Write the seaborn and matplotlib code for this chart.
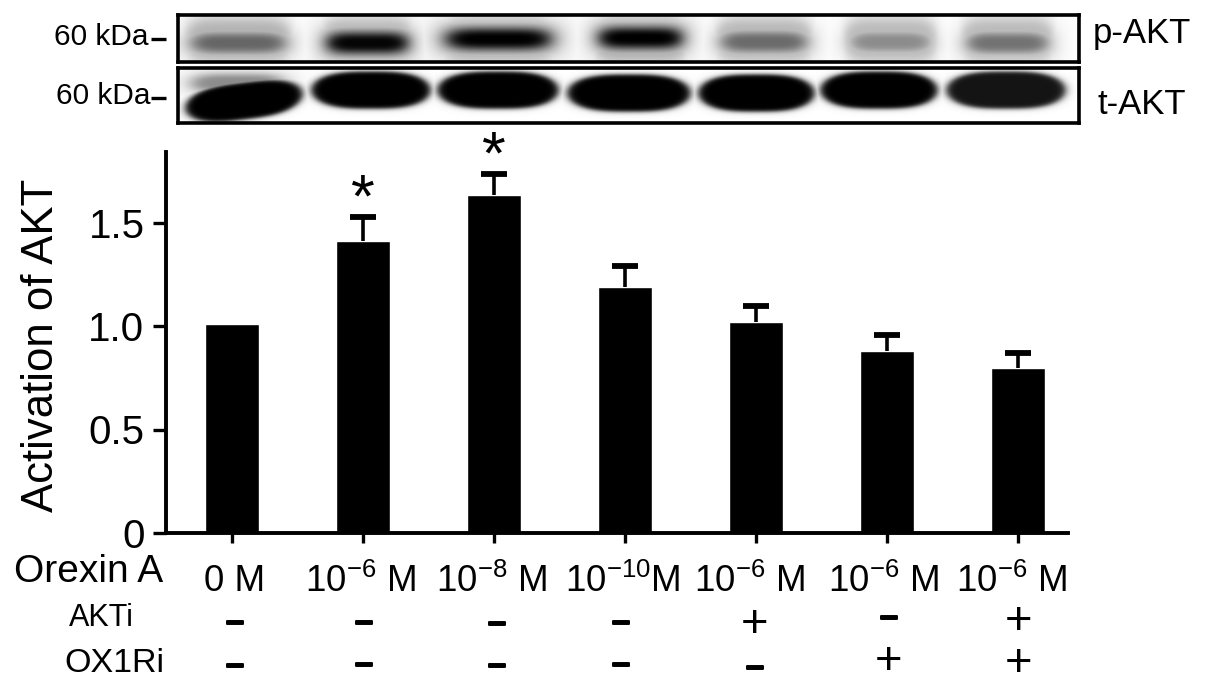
import numpy as np
import pandas as pd
import matplotlib
matplotlib.use("Agg")
import matplotlib.pyplot as plt
import matplotlib.patheffects as pe
from matplotlib.transforms import ScaledTranslation
import seaborn as sns

# ---- chart data ----
doses = ["0 M", r"10$^{-6}$ M", r"10$^{-8}$ M", r"10$^{-10}$M", r"10$^{-6}$ M", r"10$^{-6}$ M", r"10$^{-6}$ M"]
akti = ["-", "-", "-", "-", "+", "-", "+"]
ox1ri = ["-", "-", "-", "-", "-", "+", "+"]
activation = [1.01, 1.41, 1.635, 1.19, 1.02, 0.88, 0.795]
sem = [0.0, 0.115, 0.10, 0.10, 0.075, 0.075, 0.075]
significant = [False, True, True, False, False, False, False]
y_ticks = [0, 0.5, 1.0, 1.5]
y_tick_labels = ["0", "0.5", "1.0", "1.5"]

# ---- blot band densities (0 = white, 1 = black) ----
p_halo = [0.30, 0.28, 0.30, 0.32, 0.28, 0.27, 0.27]
p_core = [0.60, 0.98, 1.00, 1.00, 0.58, 0.45, 0.55]
t_core = [1.00, 1.00, 1.00, 1.00, 1.00, 1.00, 0.92]

sns.set_theme(style="ticks")
plt.rcParams["font.family"] = ["Liberation Sans", "DejaVu Sans"]
plt.rcParams["mathtext.default"] = "regular"
plt.rcParams["text.color"] = "black"

W, H = 1205, 692
fig = plt.figure(figsize=(W / 100, H / 100), dpi=100, facecolor="white")


def rect(x0, y0, x1, y1):
    return [x0 / W, 1 - y1 / H, (x1 - x0) / W, (y1 - y0) / H]


# ---- bar chart ----
ax = fig.add_axes(rect(166, 152, 1068, 533))
df = pd.DataFrame({
    "group": [f"{i}: {a}/{o}" for i, (a, o) in enumerate(zip(akti, ox1ri))],
    "activation": activation,
})
sns.barplot(data=df, x="group", y="activation", color="black", width=0.41,
            saturation=1, ax=ax, errorbar=None)
lower = np.zeros(len(sem))
mask = np.array(sem) > 0
xs = np.arange(len(activation))
eb = ax.errorbar(xs[mask], np.array(activation)[mask],
                 yerr=[lower[mask], np.array(sem)[mask]], fmt="none",
                 ecolor="black", elinewidth=2.6, capsize=9.5, capthick=4.2)
eb[1][0].set_visible(False)
ax.set_xlim(-0.504, 6.38)
ax.set_ylim(0, 381 / 207)
ax.set_xlabel("")
ax.set_ylabel("")
ax.set_yticks(y_ticks)
ax.set_yticklabels(y_tick_labels, fontsize=29, color="black")
ax.set_xticks(xs)
ax.set_xticklabels(doses, fontsize=26.5, color="black")
ax.tick_params(axis="y", length=9.5, width=2.4, pad=6, color="black")
ax.tick_params(axis="x", length=7.5, width=2.4, pad=15, color="black")
label_shift = [3, -2, -2, -2, -6, -3, -7]
for lab, dx in zip(ax.get_xticklabels(), label_shift):
    lab.set_transform(lab.get_transform() + ScaledTranslation(dx / 100, 0, fig.dpi_scale_trans))
for side in ("top", "right"):
    ax.spines[side].set_visible(False)
for side in ("left", "bottom"):
    ax.spines[side].set_linewidth(2.8)
    ax.spines[side].set_color("black")
ax.patch.set_alpha(0)

for x, v, e, s in zip(xs, activation, sem, significant):
    if s:
        ax.annotate("*", (x, v + e), xytext=(0, -9), textcoords="offset points",
                    ha="center", va="bottom", fontsize=44, color="black")

# ---- blots ----
lane_x0 = [186, 322, 441, 594, 716, 845, 962]
lane_x1 = [290, 412, 555, 686, 811, 935, 1052]
lane_yc = [43, 43, 39, 38, 42, 42, 43]
t_x0 = [185, 311, 437, 567, 698, 820, 946]
t_x1 = [302, 430, 558, 690, 814, 937, 1065]
t_yc = [101, 90, 90, 93, 93, 90, 90]
t_tilt = [-0.12, 0, 0, 0, 0, 0, 0]


def blob(X, Y, x0, x1, yc, hh, tilt=0.0, sharp=3.0, xexp=4.0):
    xc, hw = (x0 + x1) / 2, (x1 - x0) / 2
    d = (np.abs(X - xc) / hw) ** xexp + (np.abs(Y - yc - tilt * (X - xc)) / hh) ** 2
    return 1 / (1 + d ** sharp)


def frame_axes(x0, y0, x1, y1):
    a = fig.add_axes(rect(x0, y0, x1, y1))
    a.set_xticks([])
    a.set_yticks([])
    for sp in a.spines.values():
        sp.set_linewidth(2.6)
        sp.set_color("black")
    return a


X, Y = np.meshgrid(np.arange(178, 1079), np.arange(15, 63))
img = np.zeros_like(X, dtype=float)
for a, b, c, h, k in zip(lane_x0, lane_x1, lane_yc, p_halo, p_core):
    img = np.maximum(img, h * blob(X, Y, a - 2, b + 2, 40, 24, sharp=2.5, xexp=6.0))
    img = np.maximum(img, k * blob(X, Y, a + 3, b - 3, c, 12, sharp=1.6, xexp=5.0))
a1 = frame_axes(178, 15, 1079, 62)
a1.imshow(1 - img, cmap="gray", vmin=0, vmax=1, aspect="auto",
          extent=(178, 1079, 63, 15), interpolation="bilinear")

X, Y = np.meshgrid(np.arange(178, 1079), np.arange(67, 124))
img = np.zeros_like(X, dtype=float)
for a, b, c, k, t in zip(t_x0, t_x1, t_yc, t_core, t_tilt):
    img = np.maximum(img, k * blob(X, Y, a, b, c, 19, tilt=t, sharp=8.0, xexp=3.0))
img = np.maximum(img, 0.45 * blob(X, Y, 190, 285, 83, 10, sharp=2.0))
a2 = frame_axes(178, 67.5, 1079, 123)
a2.imshow(1 - img, cmap="gray", vmin=0, vmax=1, aspect="auto",
          extent=(178, 1079, 124, 67), interpolation="bilinear")

# ---- annotation layer in pixel coordinates ----
px = fig.add_axes([0, 0, 1, 1], zorder=5)
px.set_xlim(0, W)
px.set_ylim(H, 0)
px.axis("off")

px.text(42, 345, "Activation of AKT", rotation=90, ha="center", va="center", fontsize=31.5)
px.text(14, 572, "Orexin A", ha="left", va="center", fontsize=28)
px.text(101, 618, "AKTi", ha="center", va="center", fontsize=22)
px.text(114, 663, "OX1Ri", ha="center", va="center", fontsize=24.5)
px.text(54, 37, "60 kDa", ha="left", va="center", fontsize=21.5)
px.text(56, 96, "60 kDa", ha="left", va="center", fontsize=21.5)
px.text(1093, 33, "p-AKT", ha="left", va="center", fontsize=25)
px.text(1098, 104, "t-AKT", ha="left", va="center", fontsize=25)
for yy in (39, 98):
    px.plot([151, 166], [yy, yy], color="black", lw=2.4, solid_capstyle="butt")

col_x = [235, 364, 497, 621, 755, 889, 1019]
row_offsets = {
    "AKTi": [623, 623, 624, 623, 625, 618, 622],
    "OX1Ri": [666, 665, 666, 665, 668, 662, 664],
}
thick = [pe.withStroke(linewidth=1.4, foreground="black")]
for marks, row in ((akti, "AKTi"), (ox1ri, "OX1Ri")):
    for cx, cy, m in zip(col_x, row_offsets[row], marks):
        if m == "-":
            px.text(cx, cy, "\u2013", ha="center", va="center", fontsize=23,
                    fontweight="bold", color="black", path_effects=thick)
        else:
            px.text(cx, cy, "+", ha="center", va="center", fontsize=34, color="black")

fig.savefig("out.png", dpi=100, facecolor="white")
